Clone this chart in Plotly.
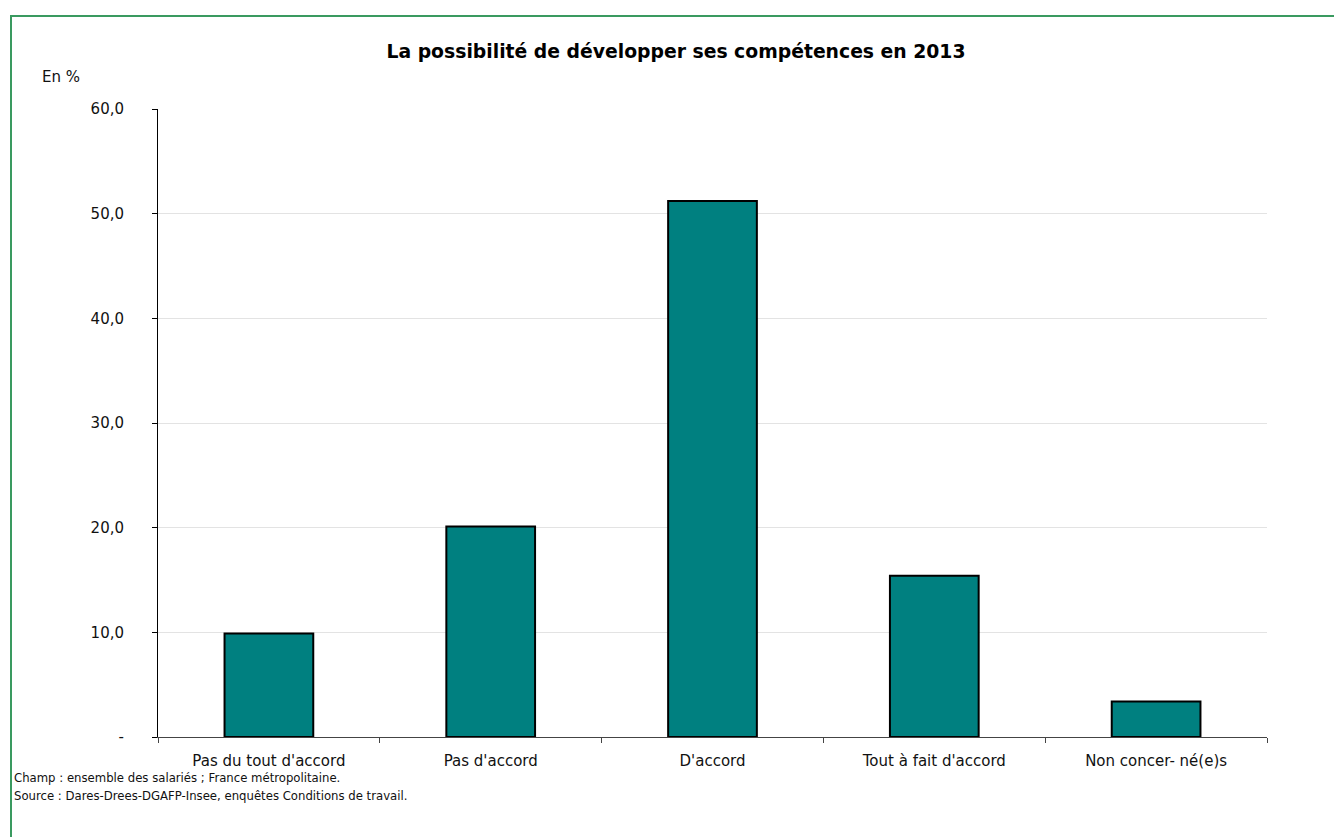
import plotly.graph_objects as go

categories = ["Pas du tout d'accord", "Pas d'accord", "D'accord", "Tout à fait d'accord", "Non concer- né(e)s"]
values = [9.9, 20.1, 51.2, 15.4, 3.4]
y_tickvals = [0, 10, 20, 30, 40, 50, 60]
y_ticktext = ["-", "10,0", "20,0", "30,0", "40,0", "50,0", "60,0"]

OFF = 8  # page body margin
W, H = 1342 - OFF, 837 - OFF
L, R, T, B = 158, 1267, 109, 737  # plot area in window pixels
font = "Verdana, DejaVu Sans, sans-serif"

def px(x):
    return (x - L) / (R - L)

def py(y):
    return (B - y) / (B - T)

fig = go.Figure(go.Bar(
    x=categories, y=values, width=0.4,
    marker=dict(color="#008080", line=dict(color="black", width=2)),
))

fig.update_layout(
    width=W, height=H, autosize=False,
    margin=dict(l=L - OFF, r=1342 - R, t=T - OFF, b=837 - B, pad=0),
    paper_bgcolor="white", plot_bgcolor="white",
    showlegend=False,
    font=dict(family=font, size=15, color="#111"),
    title=dict(text="<b>La possibilité de développer ses compétences en 2013</b>",
               x=px(676), xanchor="center", xref="paper",
               y=1 - (51 - OFF) / H, yanchor="middle",
               font=dict(size=18.8, color="black", family=font)),
    xaxis=dict(type="category", tickson="boundaries", ticks="outside", ticklen=5,
               tickcolor="#444", showline=True, linecolor="#444", linewidth=1,
               showgrid=False, range=[-0.5, 4.5], tickfont=dict(size=15),
               ticklabelstandoff=10),
    yaxis=dict(range=[0, 60], tickvals=y_tickvals, ticktext=y_ticktext,
               ticks="outside", ticklen=5, tickcolor="black", showline=True,
               linecolor="black", linewidth=1, showgrid=True, gridcolor="#e3e3e3",
               gridwidth=1, zeroline=False, tickfont=dict(size=15),
               ticklabelstandoff=25),
    shapes=[dict(type="rect", xref="paper", yref="paper",
                 x0=px(11), x1=px(1400), y0=py(16), y1=py(900),
                 line=dict(color="#3a9a60", width=2), fillcolor="rgba(0,0,0,0)",
                 layer="below")],
    annotations=[
        dict(text="En %", xref="paper", yref="paper", x=px(40), y=py(77),
             xanchor="left", yanchor="middle", showarrow=False, font=dict(size=15)),
        dict(text="Champ : ensemble des salariés ; France métropolitaine.",
             xref="paper", yref="paper", x=px(12), y=py(778), xanchor="left",
             yanchor="middle", showarrow=False, font=dict(size=11.7)),
        dict(text="Source : Dares-Drees-DGAFP-Insee, enquêtes Conditions de travail.",
             xref="paper", yref="paper", x=px(12), y=py(796), xanchor="left",
             yanchor="middle", showarrow=False, font=dict(size=11.7)),
    ],
)

fig.write_html("out.html")
